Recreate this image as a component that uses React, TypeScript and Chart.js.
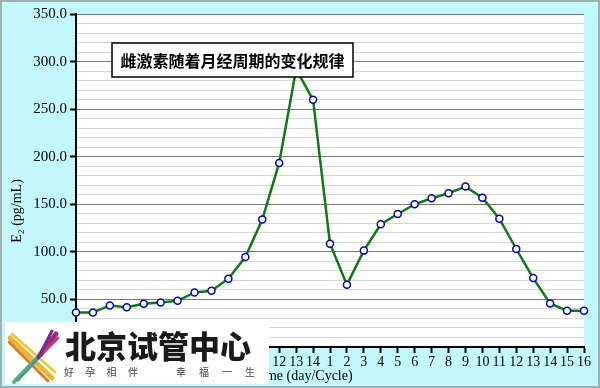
import React, { useEffect, useRef } from "react";
import { Chart, registerables } from "chart.js";

Chart.register(...registerables);

// ---- data ----
const dayLabels: string[] = [
  "0", "1", "2", "3", "4", "5", "6", "7", "8", "9", "10", "11", "12", "13", "14",
  "1", "2", "3", "4", "5", "6", "7", "8", "9", "10", "11", "12", "13", "14", "15", "16",
];
const e2Values: number[] = [
  36.3, 36.3, 43.7, 41.9, 45.5, 46.8, 48.6, 57.4, 59.2, 71.8, 94.5, 133.9, 193.5, 292, 259.8,
  108.6, 65.5, 101.3, 129, 139.8, 150, 156.3, 161.6, 168.6, 157, 134.9, 103, 72.4, 45.8, 38.1, 38.1,
];
const yMin = 0;
const yMax = 350;
const yMinorStep = 10;
const yMajorStep = 50;

const chartTitle = "雌激素随着月经周期的变化规律";
const xAxisTitle = "Time (day/Cycle)";
const yAxisTitle = "E₂ (pg/mL)";
const logoName = "北京试管中心";
const logoSloganA = ["好", "孕", "相", "伴"];
const logoSloganB = ["幸", "福", "一", "生"];

const BG = "#c2f8fc";

const decorPlugin = {
  id: "decor",
  beforeDraw(chart: any) {
    const { ctx, width, height, chartArea } = chart;
    ctx.save();
    ctx.fillStyle = BG;
    ctx.fillRect(0, 0, width, height);
    ctx.fillStyle = "#ffffff";
    ctx.fillRect(chartArea.left, chartArea.top, chartArea.right - chartArea.left, chartArea.bottom - chartArea.top);
    ctx.strokeStyle = "#a0b0b0";
    ctx.lineWidth = 2;
    ctx.strokeRect(1, 1, width - 2, height - 2);
    ctx.restore();
  },
  afterDatasetsDraw(chart: any) {
    const { ctx } = chart;
    ctx.save();
    const bx = 112, by = 43, bw = 241, bh = 34;
    ctx.fillStyle = "#ffffff";
    ctx.fillRect(bx, by, bw, bh);
    ctx.strokeStyle = "#000000";
    ctx.lineWidth = 1.5;
    ctx.strokeRect(bx, by, bw, bh);
    ctx.fillStyle = "#000000";
    ctx.font = "bold 16px 'Noto Sans CJK SC'";
    ctx.textAlign = "center";
    ctx.textBaseline = "middle";
    ctx.fillText(chartTitle, bx + bw / 2, by + bh / 2 + 1);
    ctx.restore();
  },
  afterDraw(chart: any) {
    const { ctx } = chart;
    ctx.save();
    ctx.fillStyle = "#000000";
    ctx.font = "14px 'Liberation Serif'";
    ctx.textAlign = "center";
    ctx.textBaseline = "middle";
    ctx.translate(17, 211);
    ctx.rotate(-Math.PI / 2);
    ctx.fillText(yAxisTitle, 0, 0);
    ctx.restore();

    ctx.save();
    ctx.fillStyle = "#000000";
    ctx.font = "14px 'Liberation Serif'";
    ctx.textAlign = "left";
    ctx.textBaseline = "middle";
    ctx.fillText(xAxisTitle, 254, 376);
    ctx.restore();

    // logo
    ctx.save();
    ctx.fillStyle = "#ffffff";
    ctx.fillRect(5, 322, 264, 62);
    ctx.lineCap = "round";
    const strokes: [number, number, number, number, string, number][] = [
      [10, 338, 52, 378, "#e8b830", 5],
      [12, 334, 55, 372, "#f0c840", 3],
      [9, 342, 48, 381, "#e07828", 3],
      [14, 382, 40, 355, "#58b868", 4],
      [18, 380, 44, 352, "#40a0a0", 3],
      [40, 355, 56, 334, "#a02878", 5],
      [44, 352, 58, 338, "#c83880", 3],
      [38, 358, 52, 331, "#7a2890", 3],
    ];
    for (const [x1, y1, x2, y2, c, w] of strokes) {
      ctx.strokeStyle = c;
      ctx.lineWidth = w;
      ctx.beginPath();
      ctx.moveTo(x1, y1);
      ctx.lineTo(x2, y2);
      ctx.stroke();
    }
    ctx.fillStyle = "#1a1a1a";
    ctx.font = "900 31px 'Noto Sans CJK SC'";
    ctx.textAlign = "left";
    ctx.textBaseline = "middle";
    ctx.fillText(logoName, 65, 346);
    ctx.fillStyle = "#444444";
    ctx.font = "10px 'Noto Sans CJK SC'";
    ctx.textAlign = "center";
    logoSloganA.forEach((c, i) => ctx.fillText(c, 69 + i * 21.3, 372));
    logoSloganB.forEach((c, i) => ctx.fillText(c, 181 + i * 23, 372));
    ctx.restore();
  },
};

export default function App() {
  const canvasRef = useRef<HTMLCanvasElement | null>(null);

  useEffect(() => {
    document.body.style.margin = "0";
    const canvas = canvasRef.current;
    if (!canvas) return;
    const chart = new Chart(canvas, {
      type: "line",
      data: {
        labels: dayLabels,
        datasets: [
          {
            data: e2Values,
            borderColor: "#0a7d0a",
            borderWidth: 2.5,
            tension: 0,
            pointRadius: 3.5,
            pointBorderWidth: 1.5,
            pointBorderColor: "#0000c8",
            pointBackgroundColor: "#ffffff",
          },
        ],
      },
      options: {
        animation: false,
        responsive: false,
        maintainAspectRatio: false,
        events: [],
        layout: { padding: { left: 0, right: 16, top: 14, bottom: 0 } },
        plugins: {
          legend: { display: false },
          tooltip: { enabled: false },
          title: { display: false },
        },
        scales: {
          x: {
            type: "category",
            offset: false,
            grid: {
              drawOnChartArea: false,
              drawTicks: true,
              tickLength: 6,
              tickWidth: 2,
              tickColor: "#000000",
            },
            border: { display: true, color: "#000000", width: 2 },
            ticks: {
              autoSkip: false,
              maxRotation: 0,
              minRotation: 0,
              padding: 1,
              color: "#000000",
              font: { family: "'Liberation Serif'", size: 14 },
            },
            afterFit(scale: any) {
              scale.height = 41;
            },
          },
          y: {
            min: yMin,
            max: yMax,
            grid: {
              color: (c: any) => (c.tick && c.tick.value % yMajorStep === 0 ? "#7a7a7a" : "#d6d6d6"),
              tickColor: (c: any) => (c.tick && c.tick.value % yMajorStep === 0 ? "#000000" : "rgba(0,0,0,0)"),
              tickLength: 6,
              tickWidth: 2,
              lineWidth: 1,
            },
            border: { display: true, color: "#000000", width: 2 },
            ticks: {
              stepSize: yMinorStep,
              autoSkip: false,
              padding: 3,
              color: "#000000",
              font: { family: "'Liberation Serif'", size: 15 },
              callback: (v: any) => (Number(v) % yMajorStep === 0 ? Number(v).toFixed(1) : ""),
            },
            afterFit(scale: any) {
              scale.width = 76;
            },
          },
        },
      },
      plugins: [decorPlugin],
    });
    return () => chart.destroy();
  }, []);

  return (
    <div style={{ width: 600, height: 388, position: "relative" }}>
      <canvas ref={canvasRef} width={600} height={388} style={{ display: "block", width: 600, height: 388 }} />
    </div>
  );
}
